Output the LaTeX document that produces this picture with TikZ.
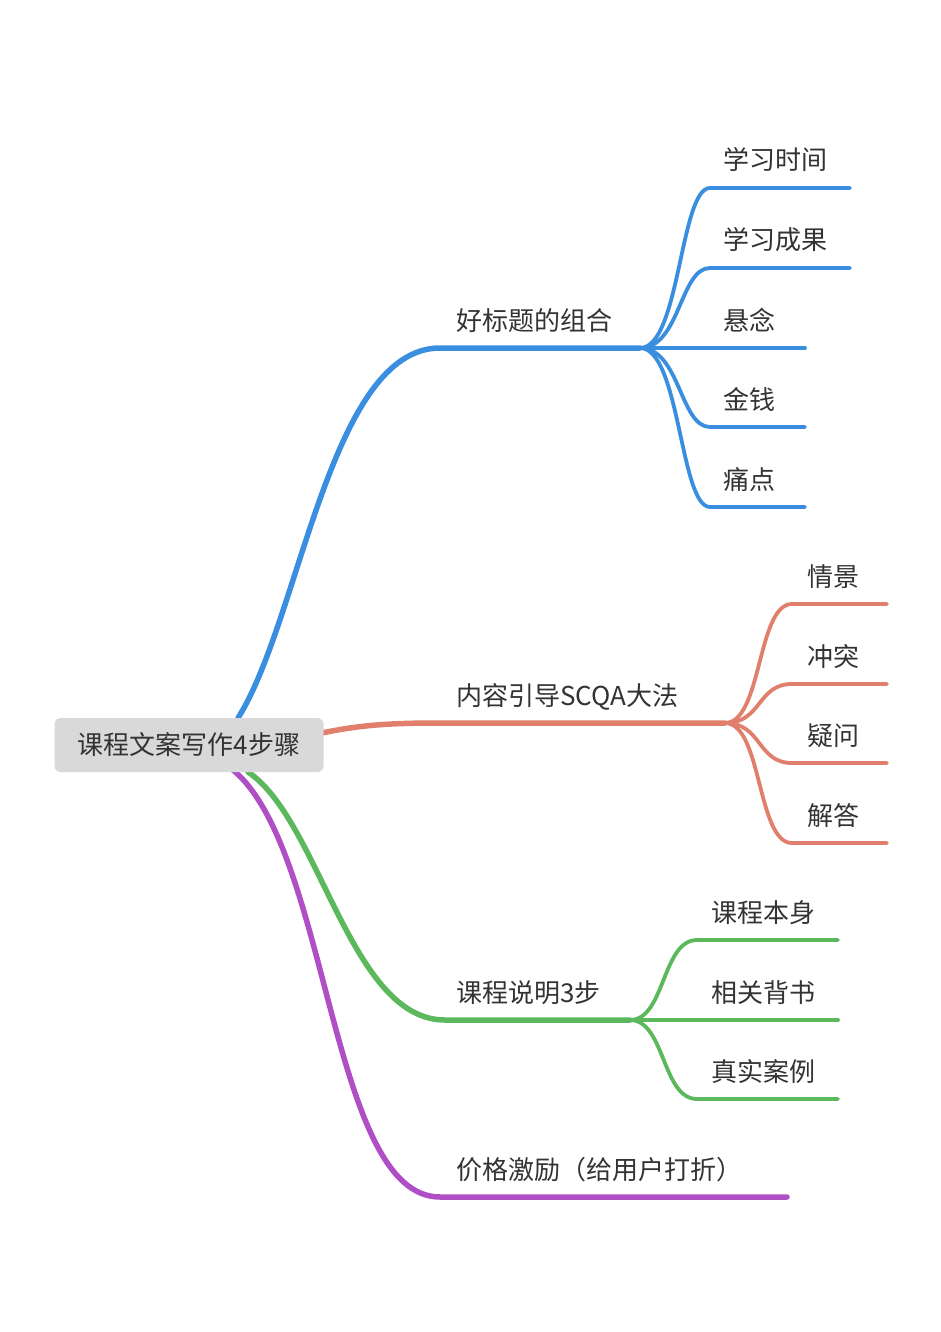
\documentclass[tikz,border=0pt]{standalone}
\usepackage{fontspec}
\setmainfont{Noto Sans CJK SC}
\begin{document}
\begin{tikzpicture}[x=1pt,y=-1pt,
  lbl/.style={anchor=base west,inner sep=0,text=txt,font=\fontsize{26}{30}\selectfont},
  mainline/.style={line width=5.5pt,line cap=round},
  subline/.style={line width=3.8pt,line cap=round}]
\definecolor{txt}{HTML}{333333}
\definecolor{cb}{HTML}{3A8EE0}
\definecolor{cr}{HTML}{E0806C}
\definecolor{cg}{HTML}{5CB85C}
\definecolor{cp}{HTML}{B04EC6}
\useasboundingbox (0,0) rectangle (940,1332);
% branches
\coordinate (b1) at (440,348); \coordinate (b1e) at (640,348);
\coordinate (b2) at (440,723); \coordinate (b2e) at (725,723);
\coordinate (b3) at (445,1020); \coordinate (b3e) at (630,1020);
\coordinate (b4) at (440,1197); \coordinate (b4e) at (787,1197);
\coordinate (r1) at (238,718); \coordinate (r2) at (322,733);
\coordinate (r3) at (248,772); \coordinate (r4) at (233,770);
\draw[mainline,cb] (r1) .. controls (300,620) and (330,348) .. (b1) -- (b1e);
\draw[mainline,cr] (r2) .. controls (360,725) and (390,723) .. (b2) -- (b2e);
\draw[mainline,cg] (r3) .. controls (320,820) and (350,1020) .. (b3) -- (b3e);
\draw[mainline,cp] (r4) .. controls (330,850) and (330,1197) .. (b4) -- (b4e);
\node[lbl] (t1) at (456,330) {好标题的组合};
\node[lbl] (t2) at (456,705) {内容引导SCQA大法};
\node[lbl] (t3) at (456,1002) {课程说明3步};
\node[lbl] (t4) at (456,1179) {价格激励（给用户打折）};
% children blue
\foreach \y/\xe/\t [count=\i] in {188/850/学习时间,268/850/学习成果,348/805/悬念,427/805/金钱,507/805/痛点}{
  \coordinate (c1\i) at (710,\y);
  \draw[subline,cb] (b1e) .. controls (680,348) and (680,\y) .. (c1\i) -- (\xe,\y);
  \node[lbl] (s1\i) at (723,\y-18) {\t};
}
\foreach \y/\t [count=\i] in {604/情景,684/冲突,763/疑问,843/解答}{
  \coordinate (c2\i) at (792,\y);
  \draw[subline,cr] (b2e) .. controls (762,723) and (757,\y) .. (c2\i) -- (887,\y);
  \node[lbl] (s2\i) at (807,\y-18) {\t};
}
\foreach \y/\t [count=\i] in {940/课程本身,1020/相关背书,1099/真实案例}{
  \coordinate (c3\i) at (697,\y);
  \draw[subline,cg] (b3e) .. controls (665,1020) and (662,\y) .. (c3\i) -- (838,\y);
  \node[lbl] (s3\i) at (711,\y-18) {\t};
}
\node[fill=black!15,rounded corners=6pt,minimum width=269pt,minimum height=54pt,text=txt,font=\fontsize{26}{30}\selectfont] (root) at (189,745) {课程文案写作4步骤};
\end{tikzpicture}
\end{document}
